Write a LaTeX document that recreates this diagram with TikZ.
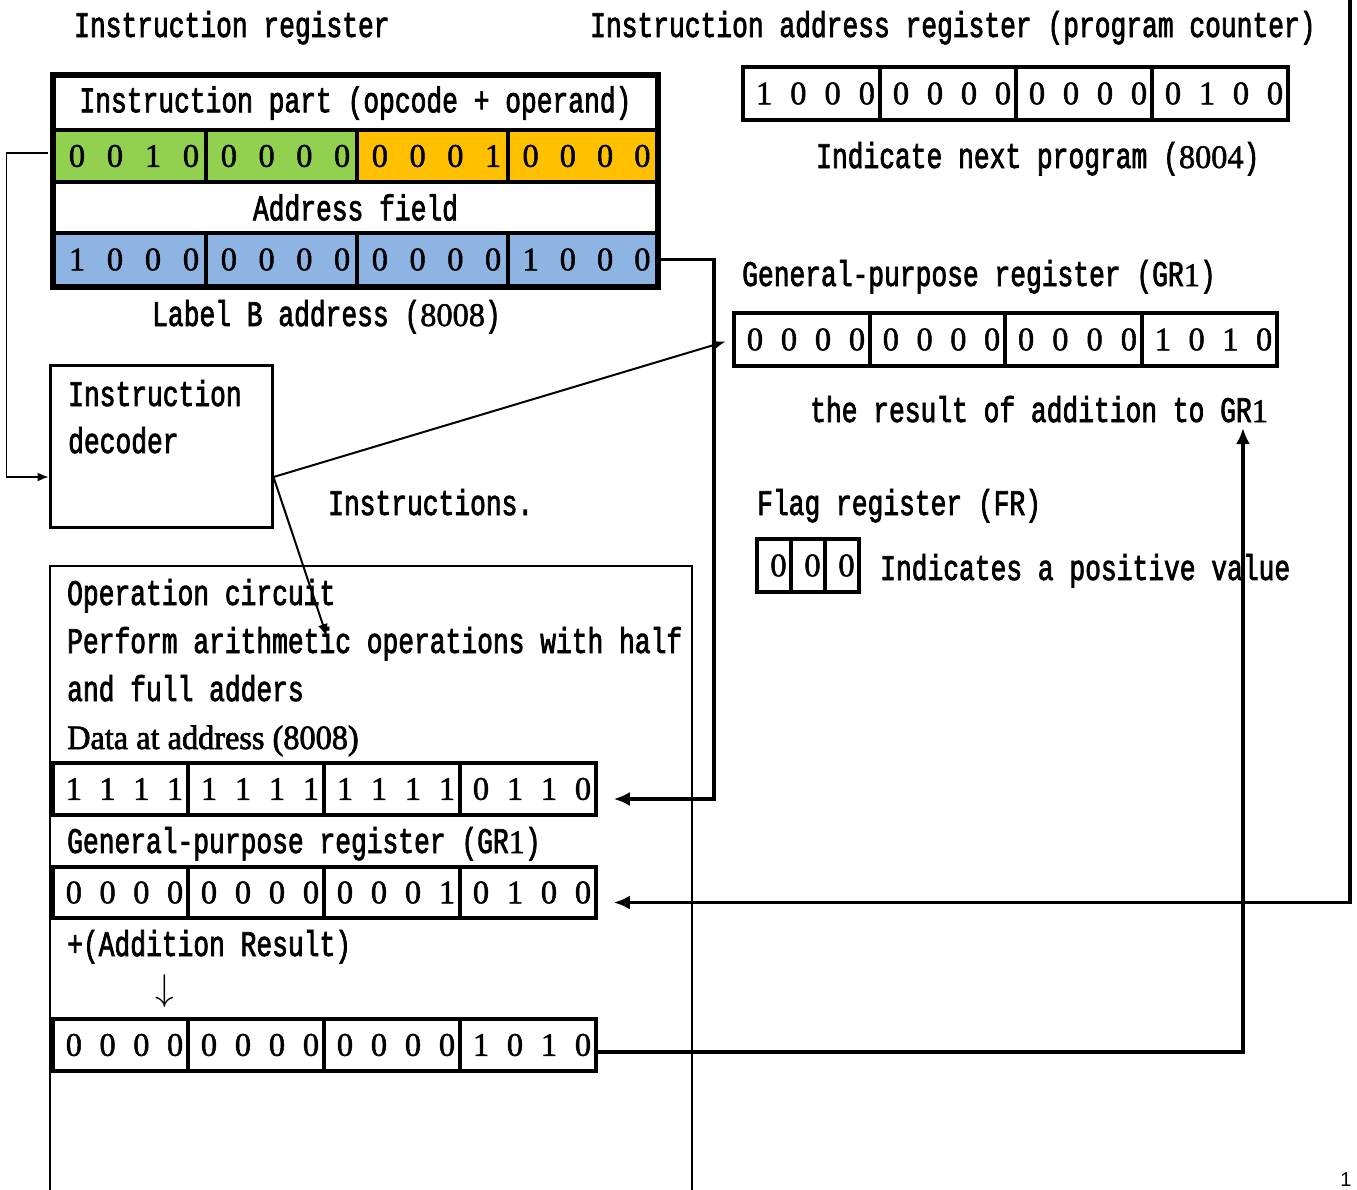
\documentclass[tikz,border=0pt]{standalone}
\usepackage{fontspec}
\setmainfont{Liberation Serif}
\newfontfamily\monofam{Liberation Mono}[FakeStretch=0.73,FakeBold=2]
\newfontfamily\digfam{Liberation Serif}[FakeStretch=0.98,FakeBold=1.5]
\newfontfamily\serifam{Liberation Serif}[FakeStretch=0.95,FakeBold=2]
\newfontfamily\pagefam{Liberation Sans}
\usetikzlibrary{arrows.meta}

\definecolor{irgreen}{HTML}{92D050}
\definecolor{irorange}{HTML}{FFC000}
\definecolor{irblue}{HTML}{8DB4E2}

\newcommand\regtext{\monofam\fontsize{36pt}{40pt}\selectfont}
\newcommand\datatext{\serifam\fontsize{34pt}{38pt}\selectfont}
% digits in the serif face, one monospace cell wide each
\newcommand\dg[1]{{\digfam\fontsize{33pt}{38pt}\selectfont#1}}
% four bits spread evenly over a cell of width #1
\newcommand\nib[5]{\makebox[#1pt][l]{\hspace{4pt}%
  \makebox[\dimexpr#1pt/4\relax]{\dg{#2}}\makebox[\dimexpr#1pt/4\relax]{\dg{#3}}%
  \makebox[\dimexpr#1pt/4\relax]{\dg{#4}}\makebox[\dimexpr#1pt/4\relax]{\dg{#5}}}}

\begin{document}
\begin{tikzpicture}[x=1pt,y=-1pt,
  txt/.style={inner sep=0pt, anchor=base west, font=\regtext},
  cell/.style 2 args={draw, line width=3.5pt, inner sep=0pt,
    minimum width=#1pt, minimum height=#2pt, font=\regtext},
  bus/.style={line width=3.5pt, -{Latex[length=16pt,width=14pt]}},
  wire/.style={line width=2pt, -{Latex[length=13pt,width=10pt]}},
  thinwire/.style={line width=1.5pt, -{Latex[length=11pt,width=9pt]}}]

\fill[white] (0,0) rectangle (1357,1189);
\useasboundingbox (0,0) rectangle (1357,1189);

% titles
\node[txt] (irtitle) at (74,37) {Instruction register};
\node[txt] (pctitle) at (590,37) {Instruction address register (program counter)};

% instruction register
\node[cell={603}{54}] (irhead) at (355.5,103) {Instruction part (opcode + operand)};
\node[cell={152}{52}, fill=irgreen] (op1) at (130,156) {\nib{152}{0}{0}{1}{0}};
\node[cell={151}{52}, fill=irgreen] (op2) at (281.5,156) {\nib{151}{0}{0}{0}{0}};
\node[cell={151}{52}, fill=irorange] (op3) at (432.5,156) {\nib{151}{0}{0}{0}{1}};
\node[cell={149}{52}, fill=irorange] (op4) at (582.5,156) {\nib{149}{0}{0}{0}{0}};
\node[cell={603}{51}] (irfield) at (355.5,207.5) {Address field};
\node[cell={152}{53}, fill=irblue] (ad1) at (130,259.5) {\nib{152}{1}{0}{0}{0}};
\node[cell={151}{53}, fill=irblue] (ad2) at (281.5,259.5) {\nib{151}{0}{0}{0}{0}};
\node[cell={151}{53}, fill=irblue] (ad3) at (432.5,259.5) {\nib{151}{0}{0}{0}{0}};
\node[cell={149}{53}, fill=irblue] (ad4) at (582.5,259.5) {\nib{149}{1}{0}{0}{0}};
\draw[line width=4pt] (irhead.north west) rectangle (ad4.south east);
\node[txt] (labelb) at (152,326) {Label B address (\dg{8008})};

% program counter
\node[cell={137}{53}] (pc1) at (811.5,93.5) {\nib{137}{1}{0}{0}{0}};
\node[cell={136}{53}] (pc2) at (948,93.5) {\nib{136}{0}{0}{0}{0}};
\node[cell={136}{53}] (pc3) at (1084,93.5) {\nib{136}{0}{0}{0}{0}};
\node[cell={136}{53}] (pc4) at (1220,93.5) {\nib{136}{0}{1}{0}{0}};
\node[txt] (pcnote) at (816,168) {Indicate next program (\dg{8004})};

% general-purpose register GR1
\node[txt] (grtitle) at (742,286) {General-purpose register (GR\dg{1})};
\node[cell={136}{53}] (gr1) at (802,339.5) {\nib{136}{0}{0}{0}{0}};
\node[cell={135}{53}] (gr2) at (937.5,339.5) {\nib{135}{0}{0}{0}{0}};
\node[cell={137}{53}] (gr3) at (1073.5,339.5) {\nib{137}{0}{0}{0}{0}};
\node[cell={135}{53}] (gr4) at (1209.5,339.5) {\nib{135}{1}{0}{1}{0}};
\node[txt] (grnote) at (810,422) {the result of addition to GR\dg{1}};

% flag register
\node[txt] (frtitle) at (757,515) {Flag register (FR)};
\node[cell={34}{53}] (fr1) at (774,565.5) {\makebox[34pt]{\hspace{9pt}\dg{0}}};
\node[cell={34}{53}] (fr2) at (808,565.5) {\makebox[34pt]{\hspace{9pt}\dg{0}}};
\node[cell={34}{53}] (fr3) at (842,565.5) {\makebox[34pt]{\hspace{9pt}\dg{0}}};
\node[txt] (frnote) at (880,580) {Indicates a positive value};

% instruction decoder
\node[draw, line width=3pt, inner sep=0pt, minimum width=222pt, minimum height=162pt] (dec) at (161,446) {};
\node[txt] (decl1) at (68,406) {Instruction};
\node[txt] (decl2) at (68,453) {decoder};
\node[txt] (instr) at (328,515) {Instructions.};

% operation circuit
\node[draw, line width=1.5pt, inner sep=0pt, minimum width=642pt, minimum height=640pt] (opc) at (371,886) {};
\node[txt] (opl1) at (67,605) {Operation circuit};
\node[txt] (opl2) at (67,653) {Perform arithmetic operations with half};
\node[txt] (opl3) at (67,701) {and full adders};
\node[inner sep=0pt, anchor=base west, font=\datatext] (opl4) at (67,749) {Data at address (8008)};

\node[cell={135}{52}] (da1) at (120.5,789) {\nib{135}{1}{1}{1}{1}};
\node[cell={136}{52}] (da2) at (256,789) {\nib{136}{1}{1}{1}{1}};
\node[cell={136}{52}] (da3) at (392,789) {\nib{136}{1}{1}{1}{1}};
\node[cell={136}{52}] (da4) at (528,789) {\nib{136}{0}{1}{1}{0}};

\node[txt] (opl5) at (67,853) {General-purpose register (GR\dg{1})};
\node[cell={135}{51}] (ga1) at (120.5,892.5) {\nib{135}{0}{0}{0}{0}};
\node[cell={136}{51}] (ga2) at (256,892.5) {\nib{136}{0}{0}{0}{0}};
\node[cell={136}{51}] (ga3) at (392,892.5) {\nib{136}{0}{0}{0}{1}};
\node[cell={136}{51}] (ga4) at (528,892.5) {\nib{136}{0}{1}{0}{0}};

\node[txt] (opl6) at (67,956) {+(Addition Result)};
\node[inner sep=0pt] (down) at (165,991) {\scalebox{1.5}{\fontsize{24pt}{28pt}\selectfont$\downarrow$}};

\node[cell={135}{52}] (rs1) at (120.5,1045) {\nib{135}{0}{0}{0}{0}};
\node[cell={136}{52}] (rs2) at (256,1045) {\nib{136}{0}{0}{0}{0}};
\node[cell={136}{52}] (rs3) at (392,1045) {\nib{136}{0}{0}{0}{0}};
\node[cell={136}{52}] (rs4) at (528,1045) {\nib{136}{1}{0}{1}{0}};

% connectors
\coordinate (pctop) at (1350,-2);
\coordinate (opin) at (327,637);
\coordinate (resup) at (1243,428);

\draw[thinwire] ([xshift=-4pt,yshift=3pt]op1.west) -- ++(-42,0) |- ([yshift=-31pt]dec.west);
\draw[wire, shorten >=7pt] ([yshift=-31pt]dec.east) -- (gr1.west);
\draw[wire] ([yshift=-31pt]dec.east) -- (opin);
\draw[bus] (ad4.east) -- ++(55,0) |- ([xshift=16pt,yshift=-10pt]da4.east);
\draw[bus] (pctop) |- ([xshift=16pt,yshift=-10pt]ga4.east);
\draw[bus] ([yshift=-7pt]rs4.east) -| (resup);

\node[font=\pagefam\fontsize{20pt}{22pt}\selectfont, inner sep=0pt, anchor=base] (pageno) at (1346,1186) {1};
\end{tikzpicture}
\end{document}
